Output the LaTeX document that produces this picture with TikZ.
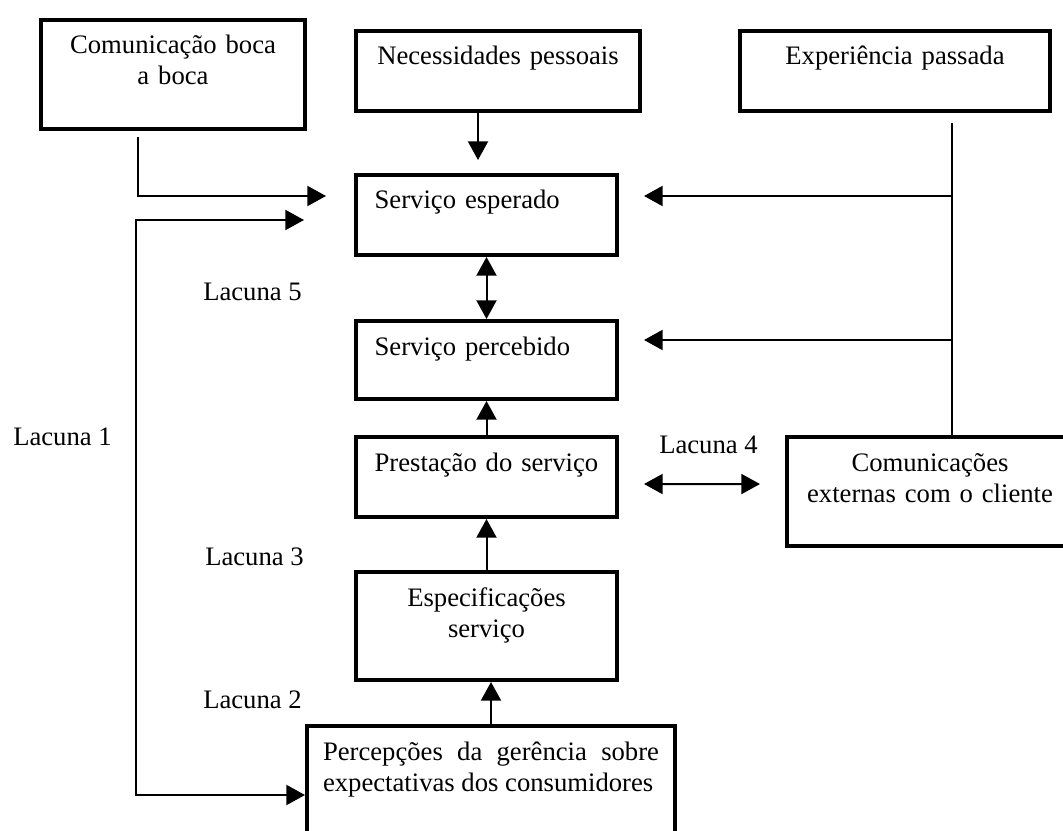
\documentclass[tikz,border=0pt]{standalone}
\usepackage{fontspec}
\setmainfont{Liberation Serif}
\usetikzlibrary{arrows.meta}

\begin{document}
\begin{tikzpicture}[x=0.75pt, y=-0.75pt,
    every node/.style={font=\fontsize{20}{23.25}\selectfont},
    caixa/.style={draw, line width=3pt, rectangle, anchor=north west,
                  inner xsep=14pt, inner ysep=0pt, text height=25.5pt},
    lacuna/.style={anchor=base west, inner sep=0pt},
    seta/.style={line width=1.5pt, -{Triangle[length=14pt,width=15pt]}},
    seta2/.style={line width=1.5pt, {Triangle[length=14pt,width=15pt]}-{Triangle[length=14pt,width=15pt]}}]
  \useasboundingbox (0,0) rectangle (1063,831);

  % caixas
  \node[caixa, text width=170pt, text depth=56.25pt, align=center] (boca) at (39,18) {Comunicação boca\\ a boca};
  \node[caixa, text width=185pt, text depth=34.5pt, align=center] (neces) at (354,29) {Necessidades pessoais};
  \node[caixa, text width=204.5pt, text depth=34.5pt, align=center] (exper) at (738,29) {Experiência passada};
  \node[caixa, text width=167.75pt, text depth=34.5pt, align=left] (esperado) at (354,173) {Serviço esperado};
  \node[caixa, text width=167.75pt, text depth=33pt, align=left] (percebido) at (354,319) {Serviço percebido};
  \node[caixa, text width=167.75pt, text depth=34.5pt, align=left] (prestacao) at (354,435) {Prestação do serviço};
  \node[caixa, text width=167.75pt, text depth=55.5pt, align=center] (espec) at (354,570) {Especificações\\ serviço};
  \node[caixa, text width=186.5pt, text depth=56.25pt, align=center] (comunic) at (785,435) {Comunicações\\ externas com o cliente};
  \node[caixa, inner xsep=12pt, text width=252pt, text depth=106.5pt, align=justify] (percep) at (305,724) {Percepções da gerência sobre expectativas dos consumidores};

  % lacunas
  \node[lacuna] (lac1) at (13,445) {Lacuna 1};
  \node[lacuna] (lac2) at (203,708) {Lacuna 2};
  \node[lacuna] (lac3) at (205,565) {Lacuna 3};
  \node[lacuna] (lac4) at (659,453) {Lacuna 4};
  \node[lacuna] (lac5) at (203,300) {Lacuna 5};

  % ligacoes
  \coordinate (eixoN) at (478,0);
  \coordinate (esq) at (136,500);
  \coordinate (dir) at (952,123);
  \coordinate (pe) at ([xshift=18.75pt,yshift=14.25pt]esperado.east);
  \coordinate (pp) at ([xshift=18.75pt,yshift=15pt]percebido.east);

  \draw[seta, shorten >=9.75pt] (neces.south -| eixoN) -- (esperado.north -| eixoN);
  \draw[seta] ([xshift=-26.25pt,yshift=-4.5pt]boca.south) |- ([xshift=-21pt,yshift=14.25pt]esperado.west);
  \draw[seta2] ([xshift=-37.5pt,yshift=-3.75pt]esperado.west) -| (esq) |- ([yshift=14.25pt]percep.west);
  \draw[line width=1.5pt] (dir) -- (dir |- comunic.north);
  \draw[seta] (dir |- pe) -- (pe);
  \draw[seta] (dir |- pp) -- (pp);
  \draw[seta2] (esperado.south) -- (percebido.north);
  \draw[seta] (prestacao.north) -- (percebido.south);
  \draw[seta] (espec.north) -- (prestacao.south);
  \draw[seta] (percep.north) -- (percep.north |- espec.south);
  \draw[seta2] ([xshift=18.75pt,yshift=-5.25pt]prestacao.east) -- ([xshift=-18.75pt,yshift=5.6pt]comunic.west);
\end{tikzpicture}
\end{document}
